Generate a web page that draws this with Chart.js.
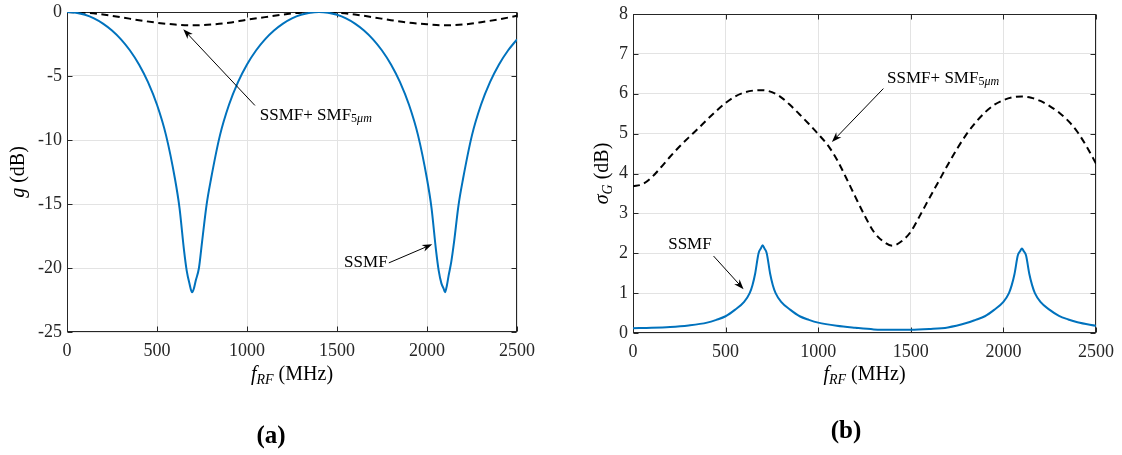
<!DOCTYPE html>
<html lang="en">
<head>
<meta charset="UTF-8">
<title>g and sigma_G versus f_RF</title>
<script src="https://cdn.jsdelivr.net/npm/chart.js"></script>
<style>
  body { margin: 0; background: #fff; }
  .wrap { position: relative; width: 1122px; height: 455px; }
  .panel { position: absolute; top: 0; width: 561px; height: 455px; }
</style>
</head>
<body>
<div class="wrap">
  <div class="panel" style="left:0"><canvas id="chartA" width="561" height="455"></canvas></div>
  <div class="panel" style="left:561px"><canvas id="chartB" width="561" height="455"></canvas></div>
</div>

<script>
// ---- data ----
const freqTicks = [0, 500, 1000, 1500, 2000, 2500];
const gainTicks = [-25, -20, -15, -10, -5, 0];
const sigmaTicks = [0, 1, 2, 3, 4, 5, 6, 7, 8];

// (a) g, SSMF only
const freqGain = [0, 50, 100, 150, 200, 250, 300, 350, 400, 450, 500, 550, 600, 625, 650, 665, 680, 695, 705, 715, 733, 750, 775, 800,
  850, 900, 950, 1000, 1050, 1100, 1150, 1200, 1250, 1300, 1350, 1400, 1450, 1500, 1550, 1600, 1650, 1700, 1750, 1800,
  1850, 1900, 1950, 2000, 2025, 2050, 2065, 2080, 2092, 2100, 2110, 2120, 2135, 2150, 2175, 2200, 2250, 2300, 2350, 2400, 2450, 2500];
const gainSSMF = [0, -0.06, -0.22, -0.5, -0.91, -1.45, -2.14, -3.01, -4.1, -5.48, -7.25, -9.62, -13.05, -15.3, -18.6, -20.2, -21.2, -21.9, -21.6, -21.0, -20.0, -18.0, -15.1, -13.05,
  -9.62, -7.25, -5.48, -4.1, -3.01, -2.14, -1.45, -0.91, -0.5, -0.22, -0.06, 0, -0.06, -0.22, -0.5, -0.91, -1.45, -2.14, -3.01, -4.1,
  -5.48, -7.25, -9.62, -13.05, -15.3, -18.6, -20.2, -21.2, -21.6, -21.9, -21.4, -20.6, -19.5, -18.0, -15.1, -13.05, -9.62, -7.25, -5.48, -4.1, -3.01, -2.14];

// (a) g, SSMF + SMF 5um
const freqGainCascade = [0, 100, 200, 300, 400, 500, 600, 700, 800, 900, 1000, 1100, 1200, 1300, 1400,
  1500, 1600, 1700, 1800, 1900, 2000, 2100, 2200, 2300, 2400, 2500];
const gainCascade = [0, -0.05, -0.2, -0.41, -0.64, -0.84, -0.98, -1.04, -0.98, -0.84, -0.6, -0.4, -0.2, -0.05, 0,
  -0.05, -0.2, -0.41, -0.64, -0.84, -0.96, -1.04, -0.98, -0.8, -0.57, -0.3];

// (b) sigma_G, SSMF only
const freqSigma = [0, 100, 200, 300, 400, 450, 500, 550, 600, 630, 645, 660, 678, 690, 700, 710, 722, 740, 755, 770, 800,
  850, 900, 950, 1000, 1100, 1200, 1300, 1400, 1500, 1600, 1700, 1800, 1850, 1900, 1950, 2000, 2030, 2045, 2060, 2078,
  2090, 2100, 2110, 2122, 2140, 2155, 2170, 2200, 2250, 2300, 2350, 2400, 2500];
const sigmaSSMF = [0.12, 0.13, 0.15, 0.19, 0.26, 0.33, 0.42, 0.58, 0.78, 1.0, 1.2, 1.5, 2.0, 2.12, 2.2, 2.12, 2.0, 1.5, 1.2, 1.0, 0.78,
  0.58, 0.42, 0.33, 0.26, 0.18, 0.13, 0.09, 0.08, 0.08, 0.1, 0.14, 0.25, 0.33, 0.42, 0.58, 0.78, 1.0, 1.2, 1.48, 1.95,
  2.05, 2.12, 2.05, 1.95, 1.48, 1.2, 1.0, 0.78, 0.58, 0.43, 0.34, 0.27, 0.18];

// (b) sigma_G, SSMF + SMF 5um
const freqSigmaCascade = [0, 50, 100, 150, 200, 250, 300, 350, 400, 450, 500, 550, 600, 650, 700, 750, 800, 850, 900, 950,
  1000, 1050, 1100, 1150, 1200, 1250, 1300, 1350, 1400, 1450, 1500, 1550, 1600, 1650, 1700, 1750, 1800, 1850, 1900,
  1950, 2000, 2050, 2100, 2150, 2200, 2250, 2300, 2350, 2400, 2450, 2500];
const sigmaCascade = [3.68, 3.73, 3.9, 4.15, 4.42, 4.67, 4.9, 5.12, 5.35, 5.57, 5.77, 5.93, 6.03, 6.08, 6.09, 6.04, 5.91, 5.71, 5.48, 5.24,
  4.99, 4.72, 4.36, 3.9, 3.42, 2.95, 2.54, 2.3, 2.19, 2.3, 2.54, 2.95, 3.38, 3.8, 4.22, 4.62, 4.98, 5.28, 5.53,
  5.72, 5.84, 5.91, 5.93, 5.9, 5.82, 5.69, 5.53, 5.32, 5.04, 4.67, 4.25];

// ---- style ----
const SERIF = '"Liberation Serif", "DejaVu Serif", serif';
const AXIS = '#262626';
const GRID = '#e3e3e3';
const BLUE = '#0072BD';

function pts(xs, ys) {
  return xs.map((x, i) => ({ x: x, y: ys[i] }));
}

function richText(ctx, parts, x, y, align, rot) {
  ctx.save();
  ctx.translate(x, y);
  if (rot) ctx.rotate(rot);
  let w = 0;
  parts.forEach(p => { ctx.font = p.font; p.w = ctx.measureText(p.t).width; w += p.w; });
  let cx = align === 'center' ? -w / 2 : (align === 'right' ? -w : 0);
  ctx.textBaseline = 'middle';
  ctx.textAlign = 'left';
  parts.forEach(p => {
    ctx.font = p.font;
    ctx.fillStyle = p.color || '#000';
    ctx.fillText(p.t, cx, p.dy || 0);
    cx += p.w;
  });
  ctx.restore();
}

function arrow(ctx, x0, y0, x1, y1) {
  const ang = Math.atan2(y1 - y0, x1 - x0);
  const len = 10, half = 3.6;
  ctx.save();
  ctx.strokeStyle = '#000';
  ctx.fillStyle = '#000';
  ctx.lineWidth = 1;
  ctx.beginPath();
  ctx.moveTo(x0, y0);
  ctx.lineTo(x1 - Math.cos(ang) * 6, y1 - Math.sin(ang) * 6);
  ctx.stroke();
  ctx.translate(x1, y1);
  ctx.rotate(ang);
  ctx.beginPath();
  ctx.moveTo(0, 0);
  ctx.lineTo(-len, -half);
  ctx.lineTo(-len * 0.7, 0);
  ctx.lineTo(-len, half);
  ctx.closePath();
  ctx.fill();
  ctx.restore();
}

// frame with inward ticks (box on, like the original)
const framePlugin = {
  id: 'frame',
  beforeDatasetsDraw(chart) {
    const { ctx, chartArea: a, scales: { x, y } } = chart;
    const L = Math.round(a.left) + 0.5, R = Math.round(a.right) - 0.5;
    const T = Math.round(a.top) + 0.5, B = Math.round(a.bottom) - 0.5;
    ctx.save();
    ctx.strokeStyle = AXIS;
    ctx.lineWidth = 1;
    ctx.strokeRect(L, T, R - L, B - T);
    ctx.beginPath();
    x.ticks.forEach(t => {
      const px = Math.round(x.getPixelForValue(t.value)) + 0.5;
      ctx.moveTo(px, B); ctx.lineTo(px, B - 5);
      ctx.moveTo(px, T); ctx.lineTo(px, T + 5);
    });
    y.ticks.forEach(t => {
      const py = Math.round(y.getPixelForValue(t.value)) + 0.5;
      ctx.moveTo(L, py); ctx.lineTo(L + 5, py);
      ctx.moveTo(R, py); ctx.lineTo(R - 5, py);
    });
    ctx.stroke();
    ctx.restore();
  },
  afterDraw(chart, args, opts) {
    const { ctx, chartArea: a, scales: { x, y } } = chart;
    opts.notes.forEach(n => {
      arrow(ctx, x.getPixelForValue(n.from[0]), y.getPixelForValue(n.from[1]),
        x.getPixelForValue(n.to[0]), y.getPixelForValue(n.to[1]));
      richText(ctx, n.parts, x.getPixelForValue(n.at[0]), y.getPixelForValue(n.at[1]), n.align);
    });
    // axis titles
    richText(ctx, [
      { t: 'f', font: 'italic 20px ' + SERIF },
      { t: 'RF', font: 'italic 14px ' + SERIF, dy: 5 },
      { t: ' (MHz)', font: '20px ' + SERIF }
    ], (a.left + a.right) / 2, opts.xTitleY, 'center');
    richText(ctx, opts.yTitle, opts.yTitleX, (a.top + a.bottom) / 2, 'center', -Math.PI / 2);
    // panel caption
    richText(ctx, [{ t: opts.caption, font: 'bold 25px ' + SERIF }], opts.captionX, opts.captionY, 'center');
  }
};

function noteParts() {
  return [
    { t: 'SSMF+ SMF', font: '17px ' + SERIF },
    { t: '5', font: '12px ' + SERIF, dy: 4 },
    { t: 'μm', font: 'italic 12px ' + SERIF, dy: 4 }
  ];
}

function makeChart(id, datasets, yMin, yMax, yTicks, yWidth, padding, plug) {
  const ctx = document.getElementById(id).getContext('2d');
  return new Chart(ctx, {
    type: 'line',
    data: { datasets: datasets },
    options: {
      responsive: false,
      animation: false,
      layout: { padding: padding },
      plugins: { legend: { display: false }, tooltip: { enabled: false }, frame: plug },
      elements: { point: { radius: 0 }, line: { cubicInterpolationMode: 'monotone' } },
      scales: {
        x: {
          type: 'linear', min: 0, max: 2500,
          afterBuildTicks: s => { s.ticks = freqTicks.map(v => ({ value: v })); },
          afterFit: s => { s.height = 30; s.paddingLeft = 0; s.paddingRight = 0; },
          grid: { color: GRID, drawTicks: false },
          border: { display: false },
          ticks: { padding: 8, color: AXIS, font: { family: SERIF, size: 18 }, callback: v => String(v) }
        },
        y: {
          type: 'linear', min: yMin, max: yMax,
          afterBuildTicks: s => { s.ticks = yTicks.map(v => ({ value: v })); },
          afterFit: s => { s.width = yWidth; s.paddingTop = 0; s.paddingBottom = 0; },
          grid: { color: GRID, drawTicks: false },
          border: { display: false },
          ticks: { padding: 5, color: AXIS, font: { family: SERIF, size: 18 }, callback: v => String(v) }
        }
      }
    },
    plugins: [framePlugin]
  });
}

makeChart('chartA', [
  { data: pts(freqGain, gainSSMF), borderColor: BLUE, borderWidth: 2 },
  { data: pts(freqGainCascade, gainCascade), borderColor: '#000', borderWidth: 2, borderDash: [7, 4.5] }
], -25, 0, gainTicks, 67, { left: 0, top: 12, right: 44, bottom: 93 }, {
  notes: [
    { from: [1044, -7.3], to: [646, -1.35], at: [1071, -8.05], align: 'left', parts: noteParts() },
    { from: [1788, -19.6], to: [2029, -18.15], at: [1781, -19.6], align: 'right',
      parts: [{ t: 'SSMF', font: '17px ' + SERIF }] }
  ],
  xTitleY: 375,
  yTitleX: 19,
  yTitle: [{ t: 'g', font: 'italic 20px ' + SERIF }, { t: ' (dB)', font: '20px ' + SERIF }],
  caption: '(a)', captionX: 271, captionY: 437
});

makeChart('chartB', [
  { data: pts(freqSigma, sigmaSSMF), borderColor: BLUE, borderWidth: 2 },
  { data: pts(freqSigmaCascade, sigmaCascade), borderColor: '#000', borderWidth: 2, borderDash: [7, 4.5] }
], 0, 8, sigmaTicks, 72, { left: 0, top: 14, right: 26, bottom: 92 }, {
  notes: [
    { from: [1352, 6.13], to: [1074, 4.79], at: [1372, 6.39], align: 'left', parts: noteParts() },
    { from: [435, 1.93], to: [597, 1.1], at: [190, 2.23], align: 'left',
      parts: [{ t: 'SSMF', font: '17px ' + SERIF }] }
  ],
  xTitleY: 375,
  yTitleX: 42,
  yTitle: [{ t: 'σ', font: 'italic 20px ' + SERIF }, { t: 'G', font: 'italic 14px ' + SERIF, dy: 5 },
    { t: ' (dB)', font: '20px ' + SERIF }],
  caption: '(b)', captionX: 285, captionY: 432
});
</script>
</body>
</html>
